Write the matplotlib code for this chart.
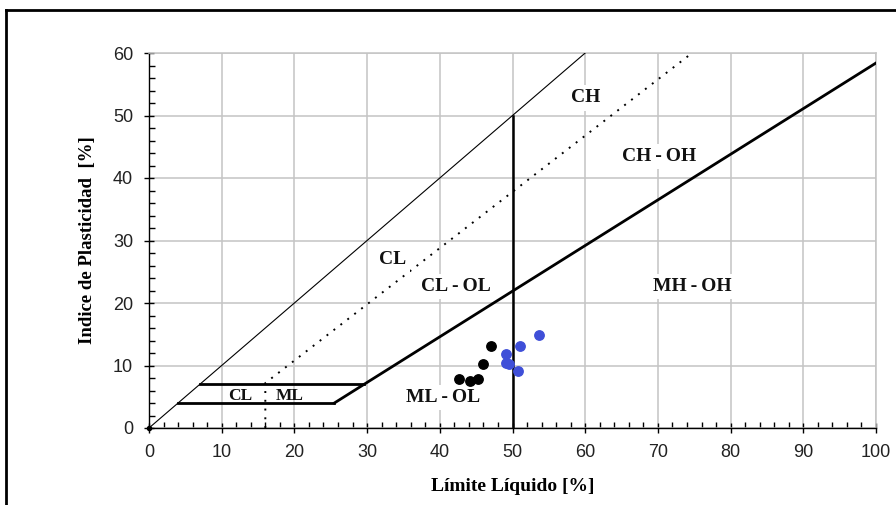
import matplotlib
matplotlib.use("Agg")
import matplotlib.pyplot as plt
from matplotlib.lines import Line2D
import numpy as np

# Data
black_ll = [42.6, 44.2, 45.2, 46.0, 47.1]
black_ip = [7.9, 7.5, 7.9, 10.3, 13.2]
blue_ll = [49.1, 49.1, 49.5, 50.7, 51.1, 53.7]
blue_ip = [11.9, 10.4, 10.2, 9.1, 13.2, 14.9]

# Reference lines (Casagrande chart)
thin_x = [0, 60]
thin_y = [0, 60]
a_line_x = [25.5, 29.6, 100]
a_line_y = [4, 7, 58.4]
u_line_x = [16, 16, 74.7]
u_line_y = [0, 7.2, 60]
band_low_x = [4, 25.5]
band_low_y = [4, 4]
band_high_x = [7, 29.6]
band_high_y = [7, 7]
ll50_x = [50, 50]
ll50_y = [0, 50]

T = "\u2009-\u2009"
region_labels = [
    ("CH", 60, 52.8),
    ("CH" + T + "OH", 70.2, 43.4),
    ("CL", 33.5, 27.0),
    ("CL" + T + "OL", 42.2, 22.7),
    ("MH" + T + "OH", 74.7, 22.7),
    ("ML" + T + "OL", 40.4, 4.9),
]
small_labels = [("CL", 12.5, 5.2), ("ML", 19.3, 5.2)]

xticks = list(range(0, 101, 10))
yticks = list(range(0, 61, 10))

fig = plt.figure(figsize=(8.96, 5.05), dpi=100)
ax = fig.add_axes([149/896, 1-428/505, (876-149)/896, (428-53)/505])

ax.set_xlim(0, 100)
ax.set_ylim(0, 60)
ax.set_xticks(xticks)
ax.set_yticks(yticks)
ax.set_xticks(np.arange(0, 101, 2), minor=True)
ax.set_yticks(np.arange(0, 61, 2), minor=True)
ax.grid(True, which='major', color='#c4c4c4', linewidth=1.1, zorder=0)
ax.set_axisbelow(True)
for s in ['top', 'right']:
    ax.spines[s].set_color('#c4c4c4')
    ax.spines[s].set_linewidth(1.1)
for s in ['left', 'bottom']:
    ax.spines[s].set_color('black')
    ax.spines[s].set_linewidth(1.0)
ax.tick_params(which='major', direction='inout', length=7, width=1, color='black',
               labelsize=13, pad=8)
ax.tick_params(which='minor', direction='in', length=4, width=1, color='black')
ax.tick_params(top=False, right=False, which='both')
for lab in ax.get_xticklabels() + ax.get_yticklabels():
    lab.set_fontfamily('Liberation Sans')
    lab.set_fontsize(13)
    lab.set_color('#222222')

ax.plot(thin_x, thin_y, color='black', lw=0.8, zorder=3)
ax.plot(u_line_x, u_line_y, color='black', lw=1.4, linestyle=(0, (1, 3.5)), zorder=3)
ax.plot(a_line_x, a_line_y, color='black', lw=2.0, zorder=3)
ax.plot(band_low_x, band_low_y, color='black', lw=2.0, zorder=3)
ax.plot(band_high_x, band_high_y, color='black', lw=2.0, zorder=3)
ax.plot(ll50_x, ll50_y, color='black', lw=1.8, zorder=3)
ax.plot([0], [0], marker='o', color='black', ms=3, zorder=3, clip_on=False)

ax.scatter(black_ll, black_ip, s=46, color='black', zorder=5)
ax.scatter(blue_ll, blue_ip, s=46, color='#3f4fd8', zorder=5)

for txt, x, y in region_labels:
    ax.text(x, y, txt, ha='center', va='center', fontsize=14, fontweight='bold',
            family='Liberation Serif', color='#111111', zorder=4,
            bbox=dict(facecolor='white', edgecolor='none', pad=3))
for txt, x, y in small_labels:
    ax.text(x, y, txt, ha='center', va='center', fontsize=12.5, fontweight='bold',
            family='Liberation Serif', color='#111111', zorder=4)

ax.set_xlabel('Límite Líquido [%]', fontsize=14, fontweight='bold',
              family='Liberation Serif', labelpad=12)
ax.set_ylabel('Indice de Plasticidad  [%]', fontsize=13.5, fontweight='bold',
              family='Liberation Serif', labelpad=12)

# outer frame (top and left edges)
fig.add_artist(Line2D([6/896, 1.0], [1-10/505, 1-10/505], transform=fig.transFigure,
                      color='black', lw=2))
fig.add_artist(Line2D([6/896, 6/896], [0, 1-10/505], transform=fig.transFigure,
                      color='black', lw=2))

fig.savefig('out.png', dpi=100)
